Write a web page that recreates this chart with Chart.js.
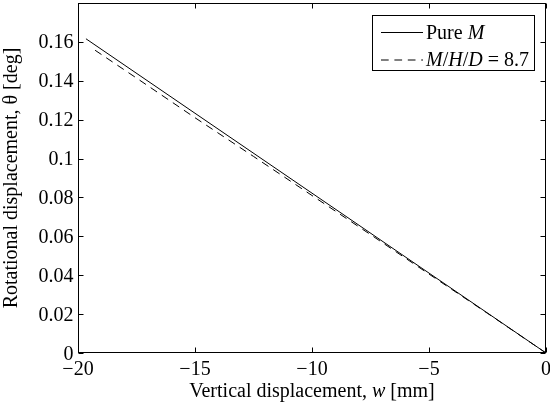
<!DOCTYPE html>
<html>
<head>
<meta charset="utf-8">
<script src="https://cdn.jsdelivr.net/npm/chart.js@4.4.0/dist/chart.umd.min.js"></script>
<style>
  html, body { margin: 0; padding: 0; background: #fff; }
</style>
</head>
<body>
<canvas id="myChart" width="550" height="405"></canvas>
<script>
// axis ticks
const xTicks = [-20, -15, -10, -5, 0]
const yTicks = [0, 0.02, 0.04, 0.06, 0.08, 0.1, 0.12, 0.14, 0.16]

// series
const pureW = [-19.66, -15, -10, -5, 0]
const pureTheta = [0.1616, 0.1233, 0.0822, 0.0411, 0]
const mhdW = [-19.27, -17.5, -15, -12.5, -10, -7.5, -5, -2.5, 0]
const mhdTheta = [0.1557, 0.1414, 0.1210, 0.1011, 0.0810, 0.0609, 0.0406, 0.0204, 0]
const seriesNames = ['Pure M', 'M/H/D = 8.7']

// text pieces, second item = italic
const legendParts = [
  [['Pure ', false], ['M', true]],
  [['M', true], ['/', false], ['H', true], ['/', false], ['D', true], [' = 8.7', false]]
]
const xTitleParts = [['Vertical displacement, ', false], ['w', true], [' [mm]', false]]
const yTitle = 'Rotational displacement, \u03b8 [deg]'

const FONT = '"Liberation Serif", "Times New Roman", serif'
const SIZE = 20

function toPoints(xs, ys) {
  return xs.map(function (x, i) { return { x: x, y: ys[i] } })
}

function setFont(ctx, italic) {
  ctx.font = (italic ? 'italic ' : '') + SIZE + 'px ' + FONT
}

function partsWidth(ctx, parts) {
  let w = 0
  parts.forEach(function (p) { setFont(ctx, p[1]); w += ctx.measureText(p[0]).width })
  return w
}

function drawParts(ctx, parts, x, y, center) {
  if (center) x -= partsWidth(ctx, parts) / 2
  ctx.textAlign = 'left'
  parts.forEach(function (p) {
    setFont(ctx, p[1])
    ctx.fillText(p[0], x, y)
    x += ctx.measureText(p[0]).width
  })
}

function fmtX(v) {
  return v < 0 ? '\u2212' + Math.abs(v) : String(v)
}

function fmtY(v) {
  return String(+v.toFixed(2))
}

// MATLAB style box, inward ticks, labels, titles, legend
const matlabAxes = {
  id: 'matlabAxes',
  afterDraw: function (chart) {
    const ctx = chart.ctx
    const a = chart.chartArea
    const xs = chart.scales.x
    const ys = chart.scales.y
    const L = Math.round(a.left) + 0.5, R = Math.round(a.right) - 0.5
    const T = Math.round(a.top) + 0.5, B = Math.round(a.bottom) - 0.5
    const tl = 5

    ctx.save()
    ctx.strokeStyle = '#000'
    ctx.fillStyle = '#000'
    ctx.lineWidth = 1
    ctx.setLineDash([])
    ctx.strokeRect(L, T, R - L, B - T)

    ctx.beginPath()
    xTicks.forEach(function (v) {
      const px = Math.round(xs.getPixelForValue(v)) + 0.5
      ctx.moveTo(px, B); ctx.lineTo(px, B - tl)
      ctx.moveTo(px, T); ctx.lineTo(px, T + tl)
    })
    yTicks.forEach(function (v) {
      const py = Math.round(ys.getPixelForValue(v)) + 0.5
      ctx.moveTo(L, py); ctx.lineTo(L + tl, py)
      ctx.moveTo(R, py); ctx.lineTo(R - tl, py)
    })
    ctx.stroke()

    // tick labels
    setFont(ctx, false)
    ctx.textBaseline = 'alphabetic'
    ctx.textAlign = 'center'
    xTicks.forEach(function (v) {
      ctx.fillText(fmtX(v), xs.getPixelForValue(v), B + 22.5)
    })
    ctx.textAlign = 'right'
    yTicks.forEach(function (v) {
      ctx.fillText(fmtY(v), L - 5, ys.getPixelForValue(v) + 6.5)
    })

    // axis titles
    drawParts(ctx, xTitleParts, (a.left + a.right) / 2, 397, true)
    ctx.save()
    ctx.translate(12, (a.top + a.bottom) / 2)
    ctx.rotate(-Math.PI / 2)
    setFont(ctx, false)
    ctx.textAlign = 'center'
    ctx.textBaseline = 'middle'
    ctx.fillText(yTitle, 0, 0)
    ctx.restore()

    // legend
    ctx.fillStyle = '#fff'
    ctx.fillRect(372.5, 15.5, 162, 55)
    ctx.strokeRect(372.5, 15.5, 162, 55)
    ctx.fillStyle = '#000'
    ctx.textBaseline = 'alphabetic'
    const rows = [32, 59.5]
    chart.data.datasets.forEach(function (ds, i) {
      ctx.beginPath()
      ctx.setLineDash(ds.borderDash || [])
      ctx.moveTo(381, rows[i] + 0.5)
      ctx.lineTo(423, rows[i] + 0.5)
      ctx.stroke()
      ctx.setLineDash([])
      drawParts(ctx, legendParts[i], 426, rows[i] + 6.5, false)
    })
    ctx.restore()
  }
}

const config = {
  type: 'line',
  data: {
    datasets: [{
      label: seriesNames[0],
      data: toPoints(pureW, pureTheta),
      borderColor: '#000',
      borderWidth: 1,
      pointRadius: 0,
      tension: 0,
      fill: false
    }, {
      label: seriesNames[1],
      data: toPoints(mhdW, mhdTheta),
      borderColor: '#000',
      borderWidth: 1,
      borderDash: [7.7, 5.7],
      pointRadius: 0,
      tension: 0,
      fill: false
    }]
  },
  options: {
    responsive: false,
    animation: false,
    devicePixelRatio: 1,
    layout: { padding: { top: 3, right: 4, left: 0, bottom: 0 } },
    plugins: {
      legend: { display: false },
      tooltip: { enabled: false }
    },
    scales: {
      x: {
        type: 'linear',
        min: -20,
        max: 0,
        grid: { display: false },
        border: { display: false },
        ticks: { display: false },
        afterBuildTicks: function (s) { s.ticks = xTicks.map(function (v) { return { value: v } }) },
        afterFit: function (s) { s.height = 52 }
      },
      y: {
        type: 'linear',
        min: 0,
        max: 0.18,
        grid: { display: false },
        border: { display: false },
        ticks: { display: false },
        afterBuildTicks: function (s) { s.ticks = yTicks.map(function (v) { return { value: v } }) },
        afterFit: function (s) { s.width = 78 }
      }
    }
  },
  plugins: [matlabAxes]
}

const myChart = new Chart(document.getElementById('myChart'), config)
</script>
</body>
</html>
